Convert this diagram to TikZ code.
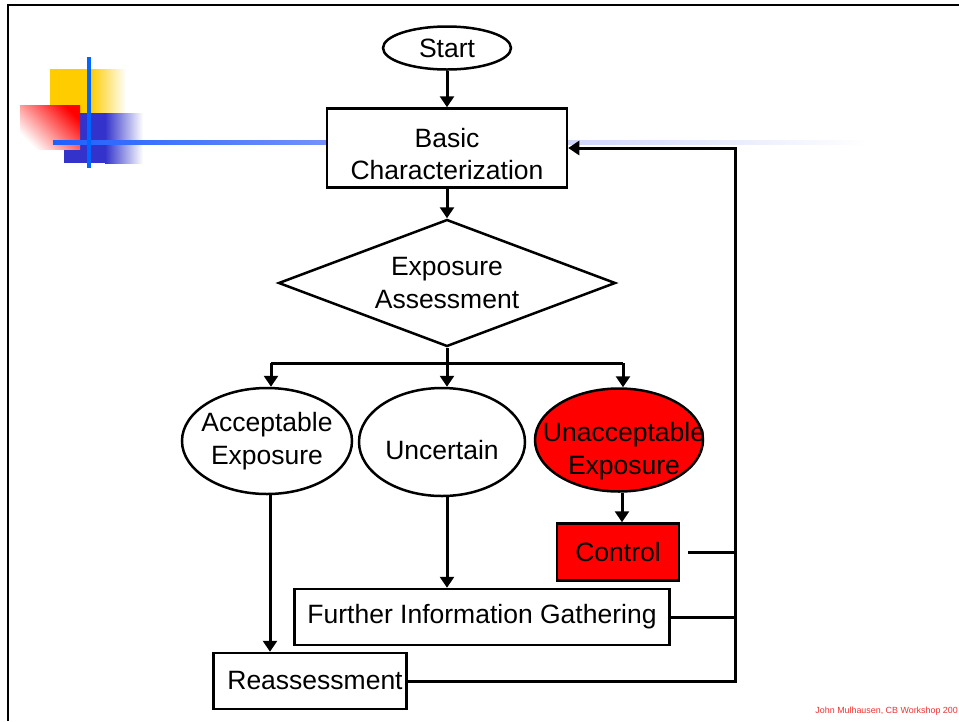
\documentclass[tikz,border=0pt]{standalone}
\usepackage{fontspec}
\setmainfont{Liberation Sans}
\usetikzlibrary{shapes.geometric,arrows.meta}

\definecolor{ruleblue}{RGB}{0,102,255}
\definecolor{decoyellow}{RGB}{255,204,0}
\definecolor{decoblue}{RGB}{51,51,204}
\definecolor{lineA}{RGB}{30,95,255}
\definecolor{lineB}{RGB}{115,145,250}
\definecolor{lineC}{RGB}{205,212,250}
\definecolor{alertred}{RGB}{255,0,0}
\definecolor{footred}{RGB}{240,50,50}

% long title rule: strong blue on the left, fading out to the right
\pgfdeclarehorizontalshading{rulefade}{100bp}{color(0bp)=(lineA); color(25bp)=(lineA); color(40bp)=(lineB); color(53bp)=(lineC); color(70bp)=(white); color(100bp)=(white)}

\tikzset{
  txt/.style={font=\fontsize{26.5}{32.5}\selectfont, align=center, inner sep=0pt},
  shape base/.style={draw=black, line width=2.5pt, inner sep=0pt, fill=white},
  box/.style={shape base, rectangle},
  oval/.style={shape base, ellipse},
  decision/.style={shape base, diamond},
  conn/.style={line width=3pt, line join=miter},
  arr/.style={conn, -{Triangle[width=14pt,length=11pt]}},
}

\begin{document}
\begin{tikzpicture}[x=1pt, y=-1pt]
\useasboundingbox (0,0) rectangle (959,721);

% slide frame
\draw[line width=2.3pt, line join=miter] (7.7,721) -- (7.7,5) -- (959,5);

% corner ornament
\fill[decoyellow] (50,69) rectangle (91,113);
\shade[left color=decoyellow, right color=white] (90,69) rectangle (126,113);
\fill[decoblue] (64,113) rectangle (106,163);
\shade[left color=decoblue, right color=white] (105,113) rectangle (143,163);
\shade[top color=alertred, bottom color=white, shading angle=-45] (20,105) rectangle (80,149);
\shade[shading=rulefade] (53,140) rectangle (959,144);
\fill[ruleblue] (87,57) rectangle (91,168);

% flowchart nodes
\node[oval, minimum width=128pt, minimum height=43pt,
      label={[txt]center:Start}] (start) at (447,48) {};
\node[box, minimum width=240pt, minimum height=79pt,
      label={[txt,yshift=-6pt]center:Basic\\Characterization}] (basic) at (447,148) {};
\node[decision, minimum width=337pt, minimum height=127pt,
      label={[txt]center:Exposure\\Assessment}] (assess) at (447,283) {};
\node[oval, minimum width=170pt, minimum height=106pt,
      label={[txt]center:Acceptable\\Exposure}] (accept) at (267,441) {};
\node[oval, minimum width=166pt, minimum height=108pt,
      label={[txt,yshift=-8pt]center:Uncertain}] (uncert) at (442,442) {};
\node[oval, fill=alertred, minimum width=168pt, minimum height=103pt,
      label={[txt,xshift=5pt,yshift=-11pt]center:Unacceptable\\Exposure}] (unaccept) at (619,440) {};
\node[box, fill=alertred, minimum width=122pt, minimum height=57pt,
      label={[txt]center:Control}] (control) at (618,552) {};
\node[box, minimum width=375pt, minimum height=56pt,
      label={[txt]center:Further Information Gathering}] (further) at (482,617) {};
\node[box, minimum width=193pt, minimum height=56pt,
      label={[txt,xshift=5pt]center:Reassessment}] (reassess) at (310,681) {};

% branching bus below the decision
\coordinate (busL) at (271,363);
\coordinate (busM) at (447,363);
\coordinate (busR) at (623,363);
\coordinate (rail) at (735,400);

% main flow
\draw[arr] (start) -- (basic);
\draw[arr] (basic) -- (assess);
\draw[conn] (assess.south) -- (busM);
\draw[conn] (busL) -- (busR);
\draw[arr] (busL) -- (busL |- accept.north);
\draw[arr] (busM) -- (busM |- uncert.north);
\draw[arr] (busR) -- (busR |- unaccept.north);
\draw[arr] (accept.south -| 270,0) -- (270,0 |- reassess.north);
\draw[arr] (447,0 |- uncert.south) -- (447,0 |- further.north);
\draw[arr] (622,0 |- unaccept.south) -- (622,0 |- control.north);

% feedback rail back to the characterization step
\draw[arr] (reassess.east) -| (rail) |- (basic.east);
\draw[conn] (further.east) -- (further.east -| rail);
\draw[conn, shorten <=8pt] (control.east) -- (control.east -| rail);

% footer, set flush against the right edge
\node[anchor=base east, inner sep=0pt, text=footred,
      font=\fontsize{8.9}{10}\selectfont] (footer) at (958,713)
      {John Mulhausen, CB Workshop 200};
\end{tikzpicture}
\end{document}
